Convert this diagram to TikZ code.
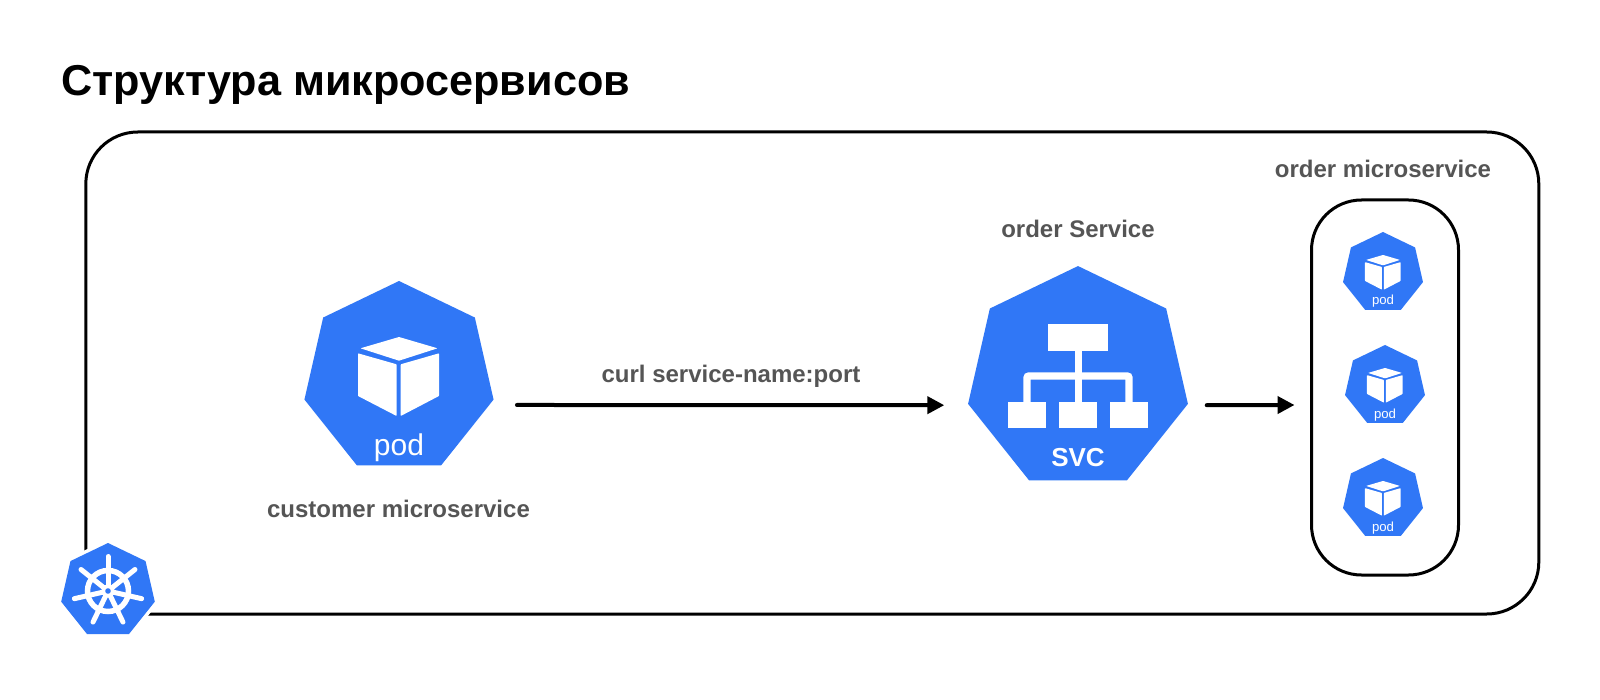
\documentclass[tikz,border=0pt]{standalone}
\usepackage{fontspec}
\setmainfont{Liberation Sans}
\usetikzlibrary{shapes.geometric,arrows.meta,calc}
\definecolor{kblue}{HTML}{3077F6}
\definecolor{lblgray}{HTML}{555555}
\tikzset{
  hepta/.style={regular polygon,regular polygon sides=7,fill=kblue,draw=none,inner sep=0pt,outer sep=0pt,minimum size=#1},
  frame/.style={draw=black,rectangle,line width=3pt,inner sep=0pt,outer sep=0pt},
  lbl/.style={anchor=base,inner sep=0pt,text=lblgray,font=\fontsize{24}{29}\selectfont\bfseries},
  flow/.style={draw=black,line width=4pt,-{Triangle[length=17pt,width=17pt]}},
}
% cube icon, centred on a pod node
\newcommand{\podicon}[2]{%
  \begin{scope}[shift={(#1)},scale=#2]
    \fill[white,rounded corners=0.6pt] (0,-41) -- (38.5,-29.7) -- (0,-17.3) -- (-38.5,-29.7) -- cycle;
    \fill[white,rounded corners=0.6pt] (-41,-24.7) -- (-2.4,-13.7) -- (-2.4,38) -- (-41,18) -- cycle;
    \fill[white,rounded corners=0.6pt] (1.7,-13.7) -- (40,-24.7) -- (40,18) -- (1.7,38) -- cycle;
  \end{scope}%
}
\begin{document}
\begin{tikzpicture}[x=1pt,y=-1pt]
\useasboundingbox (0,0) rectangle (1600,700);
\fill[white] (0,0) rectangle (1600,700);

% title
\node[anchor=base west,inner sep=0pt,font=\fontsize{43.2}{52}\selectfont\bfseries] (title) at (61,96) {Структура микросервисов};

% frames
\node[frame,rounded corners=52pt,minimum width=1453pt,minimum height=482pt] (cluster) at (812.3,373) {};
\node[frame,rounded corners=50pt,minimum width=147pt,minimum height=375pt] (orderbox) at (1385,387.5) {};

% customer pod
\node[hepta=194pt] (custpod) at (399,378) {};
\podicon{399,378}{1}
\node[anchor=base,inner sep=0pt,text=white,font=\fontsize{30}{36}\selectfont] (custpodtxt) at (399,455) {pod};
\node[lbl] (custlbl) at (398.5,517) {customer microservice};

% service
\node[hepta=225.5pt] (svc) at (1078,378.8) {};
\begin{scope}[shift={(1078,378)}]
  \fill[white] (-30,-54) rectangle (30,-27.3);
  \fill[white] (-3.5,-27.3) rectangle (3.5,24);
  \draw[white,line width=7.4pt,rounded corners=2pt] (-51,24) -- (-51,-2) -- (51,-2) -- (51,24);
  \fill[white] (-70.3,23.7) rectangle (-32,50.3);
  \fill[white] (-19,23.7) rectangle (19,50.3);
  \fill[white] (32.3,23.7) rectangle (70.3,50.3);
\end{scope}
\node[anchor=base,inner sep=0pt,text=white,font=\fontsize{26}{32}\selectfont\bfseries] (svctxt) at (1078,466) {SVC};
\node[lbl] (svclbl) at (1078,238) {order Service};

% order pods
\node[hepta=82pt] (poda) at (1383,273) {};
\podicon{1383,273}{0.44}
\node[anchor=base,inner sep=0pt,text=white,font=\fontsize{13.2}{16}\selectfont] (podatxt) at (1383,305) {pod};
\node[hepta=82pt] (podb) at (1385,386) {};
\podicon{1385,386}{0.44}
\node[anchor=base,inner sep=0pt,text=white,font=\fontsize{13.2}{16}\selectfont] (podbtxt) at (1385,418) {pod};
\node[hepta=82pt] (podc) at (1383,499) {};
\podicon{1383,499}{0.44}
\node[anchor=base,inner sep=0pt,text=white,font=\fontsize{13.2}{16}\selectfont] (podctxt) at (1383,531) {pod};
\node[lbl] (orderlbl) at (1383,178) {order microservice};

% connectors
\node[lbl] (curllbl) at (731,382) {curl service-name:port};
\draw[flow,line cap=round] ([xshift=23.4pt,yshift=-5.4pt]custpod.corner 6) -- ([xshift=-23.8pt,yshift=-1.3pt]svc.corner 3);
\draw[flow,line cap=round] ([xshift=18.8pt,yshift=-1.3pt]svc.corner 6) -- ([xshift=-17pt,yshift=-17.5pt]orderbox.west);

% kubernetes logo on the cluster corner
\node[regular polygon,regular polygon sides=7,draw=white,line width=7pt,line join=round,fill=white,inner sep=0pt,minimum size=96pt] (k8shalo) at (108,591) {};
\node[hepta=96pt] (k8s) at (108,591) {};
\begin{scope}[shift={(108,591)}]
  \draw[white,line width=5.5pt] (0,0) circle (20.5);
  \foreach \a in {90,141.43,192.86,244.29,295.71,347.14,38.57}
    \draw[white,line width=5pt,line cap=round] (0,0) -- ({34.5*cos(\a)},{-34.5*sin(\a)});
  \fill[white] (0,0) circle (6.5);
  \fill[kblue] (0,0) circle (2.8);
\end{scope}
\end{tikzpicture}
\end{document}
